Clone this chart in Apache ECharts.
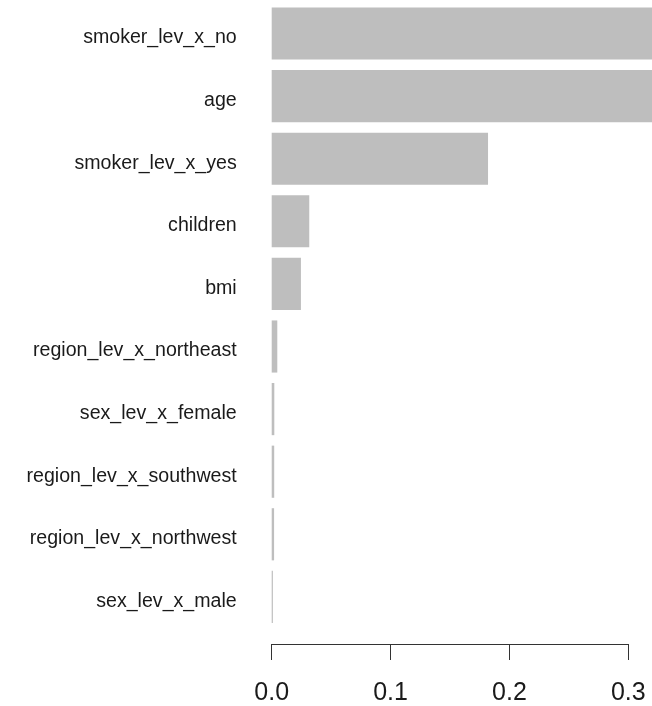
<!DOCTYPE html>
<html>
<head>
<meta charset="utf-8">
<script src="https://cdn.jsdelivr.net/npm/echarts@6/dist/echarts.min.js"></script>
<style>
  html, body { margin: 0; padding: 0; background: #ffffff; }
  #chart { width: 652px; height: 706px; }
</style>
</head>
<body>
<div id="chart"></div>
<script>
// Variable importance, top to bottom
const categories = [
  'smoker_lev_x_no',
  'age',
  'smoker_lev_x_yes',
  'children',
  'bmi',
  'region_lev_x_northeast',
  'sex_lev_x_female',
  'region_lev_x_southwest',
  'region_lev_x_northwest',
  'sex_lev_x_male'
];
const importance = [0.37, 0.35, 0.182, 0.0316, 0.0246, 0.0047, 0.0022, 0.0021, 0.0020, 0.0010];
const tickValues = [0, 0.1, 0.2, 0.3];

const FONT = '"Liberation Sans", Arial, sans-serif';
const plotLeft = 271.7;
const axisEnd = 628.3;       // pixel position of the last tick
const plotTop = 2.2;
const plotHeight = 626;
const axisMax = tickValues[tickValues.length - 1];
// value shown at the right edge of the canvas, so long bars run off the edge
const barMax = axisMax * (652 - plotLeft) / (axisEnd - plotLeft);

const chart = echarts.init(document.getElementById('chart'), null, { renderer: 'canvas' });

chart.setOption({
  animation: false,
  backgroundColor: '#ffffff',
  grid: [
    { left: plotLeft, right: 0, top: plotTop, height: plotHeight, containLabel: false },
    { left: plotLeft, width: axisEnd - plotLeft, top: plotTop, height: plotHeight, containLabel: false }
  ],
  xAxis: [
    { gridIndex: 0, type: 'value', min: 0, max: barMax, show: false },
    {
      gridIndex: 1, type: 'value', position: 'bottom',
      min: 0, max: axisMax, interval: 0.1,
      offset: 18.5,
      axisLine: { show: true, lineStyle: { color: '#333333', width: 1 } },
      axisTick: { show: true, length: 16, lineStyle: { color: '#333333', width: 1 } },
      splitLine: { show: false },
      axisLabel: {
        margin: 37,
        fontFamily: FONT, fontSize: 25, color: '#1a1a1a',
        formatter: v => v.toFixed(1)
      }
    }
  ],
  yAxis: [
    {
      gridIndex: 0, type: 'category', data: categories, inverse: true,
      axisLine: { show: false }, axisTick: { show: false }, splitLine: { show: false },
      axisLabel: {
        margin: 35,
        fontFamily: FONT, fontSize: 19.6, color: '#1a1a1a',
        verticalAlign: 'top',
        lineHeight: 9
      }
    },
    { gridIndex: 1, type: 'category', data: categories, inverse: true, show: false }
  ],
  series: [
    {
      type: 'bar',
      xAxisIndex: 0, yAxisIndex: 0,
      data: importance,
      barWidth: '83.3%',
      clip: true,
      itemStyle: { color: '#bebebe' },
      silent: true
    }
  ]
});
</script>
</body>
</html>
